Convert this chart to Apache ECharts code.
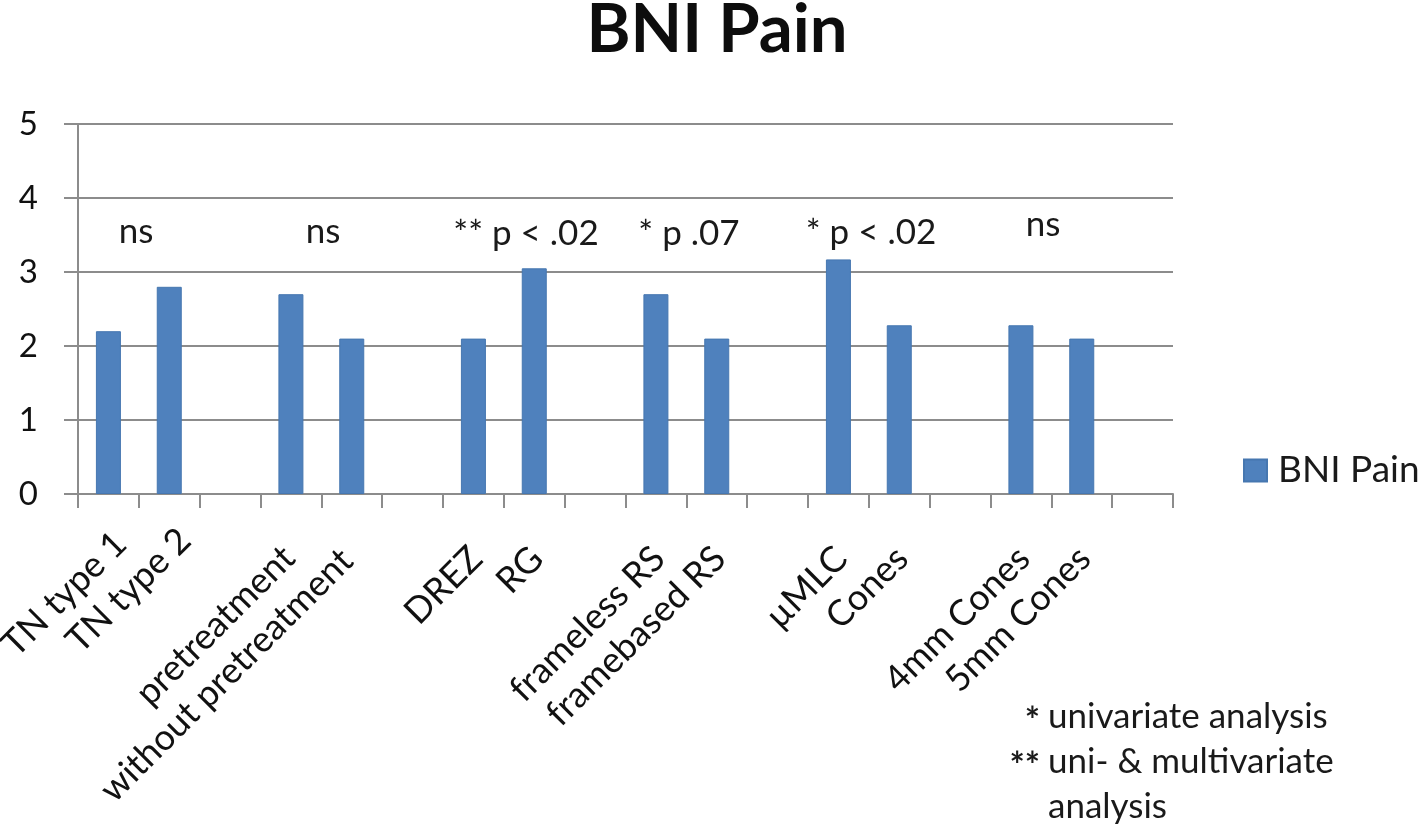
<!DOCTYPE html>
<html>
<head>
<meta charset="utf-8">
<script src="https://cdn.jsdelivr.net/npm/echarts@6/dist/echarts.min.js"></script>
<style>
  html, body { margin: 0; padding: 0; background: #ffffff; }
  #chart { width: 1418px; height: 828px; }
</style>
</head>
<body>
<div id="chart"></div>
<script>
// ---- data ----
const categories = ['TN type 1', 'TN type 2', '', 'pretreatment', 'without pretreatment', ' ',
  'DREZ', 'RG', '  ', 'frameless RS', 'framebased RS', '   ',
  'µMLC', 'Cones', '    ', '4mm Cones', '5mm Cones', '     '];
const bniPain = [2.2, 2.8, null, 2.7, 2.1, null,
  2.1, 3.05, null, 2.7, 2.1, null,
  3.17, 2.28, null, 2.28, 2.1, null];
const yTicks = [0, 1, 2, 3, 4, 5];
const annotationTexts = ['ns', 'ns', '** p < .02', '* p .07', '* p < .02', 'ns'];
const footnoteMarks = ['*', '**', ''];
const footnoteTexts = ['univariate analysis', 'uni- & multivariate', 'analysis'];

// ---- styles / layout ----
const FONT = 'Lato, "Open Sans", sans-serif';
const annotationPos = [[136, 232], [323, 232], [526, 234], [689, 234], [871, 233], [1043, 225]];
// per-label nudges (padding top, padding right) to follow the reference placement
const labelNudge = { 0: [20, -17], 1: [34, -22], 3: [-13, 3], 4: [-18, 7] };

const chart = echarts.init(document.getElementById('chart'), null, { renderer: 'canvas' });

const graphics = [];
annotationTexts.forEach((t, i) => graphics.push({
  type: 'text', x: annotationPos[i][0], y: annotationPos[i][1],
  style: { text: t, fill: '#1a1a1a', fontFamily: FONT, fontSize: 35, align: 'center', verticalAlign: 'middle' }
}));
footnoteTexts.forEach((t, i) => {
  const y = 717 + i * 45;
  if (footnoteMarks[i]) graphics.push({
    type: 'text', x: 1040, y: y + 4,
    style: { text: footnoteMarks[i], fill: '#1a1a1a', fontFamily: FONT, fontWeight: 'bold', fontSize: 36, align: 'right', verticalAlign: 'middle' }
  });
  graphics.push({
    type: 'text', x: 1048, y: y,
    style: { text: t, fill: '#1a1a1a', fontFamily: FONT, fontSize: 35, align: 'left', verticalAlign: 'middle' }
  });
});

const xData = categories.map((c, i) => {
  const n = labelNudge[i];
  return n ? { value: c, textStyle: { padding: [n[0], n[1], 0, 0] } } : c;
});

chart.setOption({
  animation: false,
  backgroundColor: '#ffffff',
  title: {
    text: 'BNI Pain',
    left: 712, top: -8, textAlign: 'center',
    textStyle: { fontFamily: FONT, fontWeight: 'bold', fontSize: 67, color: '#0d0d0d' }
  },
  legend: {
    data: ['BNI Pain'],
    left: 1243, top: 452, padding: 0,
    itemWidth: 23, itemHeight: 22,
    icon: 'rect',
    textStyle: { fontFamily: FONT, fontSize: 37, color: '#1a1a1a', padding: [0, 0, 0, 6] }
  },
  grid: { left: 78, right: 245, top: 124, bottom: 334, containLabel: false, outerBoundsMode: 'none' },
  xAxis: {
    type: 'category',
    data: xData,
    boundaryGap: true,
    axisLine: { show: true, lineStyle: { color: '#8c8c8c', width: 2 } },
    axisTick: { show: true, length: 14, alignWithLabel: false, interval: 0, lineStyle: { color: '#8c8c8c', width: 2 } },
    axisLabel: {
      interval: 0, rotate: 45, margin: 56,
      fontFamily: FONT, fontSize: 36, color: '#111',
      verticalAlign: 'top', lineHeight: 8
    },
    splitLine: { show: false }
  },
  yAxis: {
    type: 'value',
    min: yTicks[0], max: yTicks[yTicks.length - 1], interval: 1,
    axisLine: { show: true, lineStyle: { color: '#8c8c8c', width: 2 } },
    axisTick: { show: true, length: 14, lineStyle: { color: '#8c8c8c', width: 2 } },
    axisLabel: { margin: 40, fontFamily: FONT, fontSize: 33, color: '#111' },
    splitLine: { show: true, lineStyle: { color: '#8c8c8c', width: 2 } }
  },
  series: [{
    name: 'BNI Pain',
    type: 'bar',
    data: bniPain,
    barWidth: 25,
    itemStyle: { color: '#4f81bd', borderColor: '#4677b0', borderWidth: 1 }
  }],
  graphic: graphics
});
</script>
</body>
</html>
